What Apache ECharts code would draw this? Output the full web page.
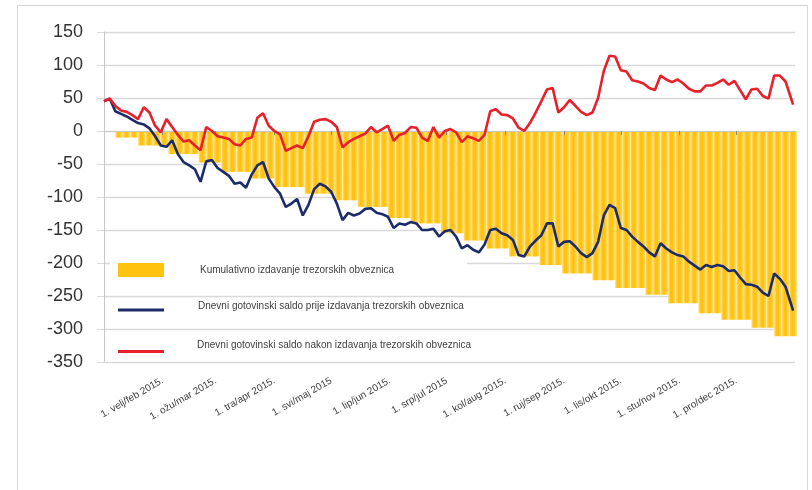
<!DOCTYPE html>
<html>
<head>
<meta charset="utf-8">
<script src="https://cdn.jsdelivr.net/npm/echarts@6/dist/echarts.min.js"></script>
<style>
  html, body { margin: 0; padding: 0; background: #fff; }
  #chart { width: 812px; height: 490px; }
</style>
</head>
<body>
<div id="chart"></div>
<script>
// Series names (legend text)
const seriesNames = [
  'Kumulativno izdavanje trezorskih obveznica',
  'Dnevni gotovinski saldo prije izdavanja trezorskih obveznica',
  'Dnevni gotovinski saldo nakon izdavanja trezorskih obveznica'
];

// Day of year 2015 (0 = 1 Jan) for the daily cash balance samples
const lineDay = [
  0, 3, 6, 9, 12, 15, 18, 21, 24, 27,
  30, 33, 36, 39, 42, 45, 48, 51, 54, 57,
  60, 63, 66, 69, 72, 75, 78, 81, 84, 87,
  90, 93, 96, 99, 102, 105, 108, 111, 114, 117,
  120, 123, 126, 129, 132, 135, 138, 141, 144, 147,
  150, 153, 156, 159, 162, 165, 168, 171, 174, 177,
  180, 183, 186, 189, 192, 195, 198, 201, 204, 207,
  210, 213, 216, 219, 222, 225, 228, 231, 234, 237,
  240, 243, 246, 249, 252, 255, 258, 261, 264, 267,
  270, 273, 276, 279, 282, 285, 288, 291, 294, 297,
  300, 303, 306, 309, 312, 315, 318, 321, 324, 327,
  330, 333, 336, 339, 342, 345, 348, 351, 354, 357,
  360, 364
];

// Daily cash balance before treasury bill issuance
const balanceBefore = [
  45, 49, 30, 26, 22, 17, 12, 10, 4, -8,
  -22, -24, -14, -35, -47, -52, -58, -77, -46, -44,
  -56, -62, -68, -80, -78, -86, -66, -52, -47, -72,
  -85, -95, -115, -110, -103, -128, -112, -88, -80, -84,
  -92, -110, -135, -124, -128, -125, -118, -117, -124, -126,
  -130, -147, -140, -142, -138, -140, -150, -150, -148, -160,
  -152, -150, -160, -178, -173, -180, -184, -172, -150, -148,
  -155, -158, -165, -188, -190, -175, -166, -158, -140, -140,
  -175, -168, -167, -175, -185, -191, -185, -168, -128, -112,
  -117, -147, -150, -160, -168, -175, -184, -190, -170, -178,
  -184, -188, -190, -198, -204, -210, -203, -206, -203, -205,
  -212, -211, -222, -232, -233, -236, -245, -250, -216, -224,
  -236, -272
];

// Daily cash balance after treasury bill issuance
const balanceAfter = [
  45, 49, 38, 31, 29, 24, 18, 36, 28, 8,
  -2, 18, 6, -6, -16, -14, -22, -29, 6, 0,
  -8, -10, -12, -20, -22, -12, -10, 20, 27, 8,
  0, -5, -30, -26, -22, -26, -8, 14, 17, 18,
  14, 6, -25, -17, -12, -8, -4, 6, -2, 3,
  8, -15, -6, -3, 6, 5, -10, -15, 6, -10,
  0, 3, -2, -17, -8, -11, -15, -6, 30, 33,
  25, 24, 19, 5, 0, 12, 28, 45, 63, 65,
  28, 36, 47, 38, 29, 24, 28, 50, 91, 114,
  113, 92, 90, 77, 75, 72, 65, 62, 84, 78,
  74, 78, 72, 64, 60, 60, 69, 69, 73, 78,
  70, 76, 62, 48, 63, 64, 53, 49, 84, 84,
  75, 40
];

// Day of year for the cumulative issuance bars
const barDay = [
  8, 12, 16, 20, 24, 28, 32, 36, 40, 44,
  48, 52, 56, 60, 64, 68, 72, 76, 80, 84,
  88, 92, 96, 100, 104, 108, 112, 116, 120, 124,
  128, 132, 136, 140, 144, 148, 152, 156, 160, 164,
  168, 172, 176, 180, 184, 188, 192, 196, 200, 204,
  208, 212, 216, 220, 224, 228, 232, 236, 240, 244,
  248, 252, 256, 260, 264, 268, 272, 276, 280, 284,
  288, 292, 296, 300, 304, 308, 312, 316, 320, 324,
  328, 332, 336, 340, 344, 348, 352, 356, 360, 364
];

// Cumulative treasury bill issuance (shown below zero)
const cumulativeIssuance = [
  -10, -10, -10, -22, -22, -22, -22, -35, -35, -35,
  -35, -48, -48, -48, -62, -62, -62, -62, -72, -72,
  -72, -85, -85, -85, -85, -95, -95, -95, -95, -105,
  -105, -105, -115, -115, -115, -115, -132, -132, -132, -140,
  -140, -140, -140, -155, -155, -155, -166, -166, -166, -178,
  -178, -178, -190, -190, -190, -190, -203, -203, -203, -216,
  -216, -216, -216, -226, -226, -226, -238, -238, -238, -238,
  -248, -248, -248, -261, -261, -261, -261, -276, -276, -276,
  -286, -286, -286, -286, -298, -298, -298, -311, -311, -311
];

// First day of each month (day of year) and its axis label
const monthStartDay = [31, 59, 90, 120, 151, 181, 212, 243, 273, 304, 334];
const monthLabels = [
  '1. velj/feb 2015.', '1. ožu/mar 2015.', '1. tra/apr 2015.', '1. svi/maj 2015',
  '1. lip/jun 2015.', '1. srp/jul 2015', '1. kol/aug 2015.', '1. ruj/sep 2015.',
  '1. lis/okt 2015.', '1. stu/nov 2015.', '1. pro/dec 2015.'
];

// y axis range
const yMin = -350, yMax = 150, yStep = 50;

const pair = (xs, ys) => xs.map((x, i) => [x, ys[i]]);

const chart = echarts.init(document.getElementById('chart'), null, { renderer: 'canvas' });

const textColor = '#404040';
const gridColor = '#d9d9d9';
const fontFamily = '"Liberation Sans", Arial, sans-serif';
const barColor = '#FFC30F';
const barLight = '#FFE083';
const blueColor = '#1B2C69';
const redColor = '#E8202A';

// Legend line swatches sit a little below their text: a tiny dot at the
// top of the icon box pushes the drawn stroke toward the bottom.
const lineIconLow = 'path://M0,0 L0.05,0 L0.05,0.05 Z M0,7.5 L46,7.5 L46,10.5 L0,10.5 Z';
const lineIconLower = 'path://M0,0 L0.05,0 L0.05,0.05 Z M0,13 L46,13 L46,16 L0,16 Z';

const legendBase = {
  orient: 'vertical',
  left: 110,
  itemWidth: 46,
  selectedMode: false,
  textStyle: { fontFamily: fontFamily, fontSize: 10, color: textColor }
};

chart.setOption({
  animation: false,
  backgroundColor: '#ffffff',
  graphic: [{
    type: 'rect',
    shape: { x: 17.5, y: 5.5, width: 790, height: 520 },
    style: { fill: 'none', stroke: '#d6d6d6', lineWidth: 1 },
    silent: true,
    z: -10
  }],
  grid: { left: 104, right: 17, top: 32, bottom: 128 },
  legend: [
    Object.assign({}, legendBase, {
      top: 255,
      padding: [8, 73, 8, 8],
      itemHeight: 14,
      backgroundColor: '#ffffff',
      data: [{ name: seriesNames[0], icon: 'rect', itemStyle: { color: barColor } }],
      textStyle: Object.assign({}, legendBase.textStyle, { padding: [0, 0, 6, 31] })
    }),
    Object.assign({}, legendBase, {
      top: 301,
      padding: [0, 0, 0, 8],
      itemHeight: 10.5,
      data: [{ name: seriesNames[1], icon: lineIconLow, itemStyle: { color: blueColor } }],
      textStyle: Object.assign({}, legendBase.textStyle, { padding: [0, 0, 0, 29] })
    }),
    Object.assign({}, legendBase, {
      top: 337,
      padding: [0, 0, 0, 8],
      itemHeight: 16,
      data: [{ name: seriesNames[2], icon: lineIconLower, itemStyle: { color: redColor } }],
      textStyle: Object.assign({}, legendBase.textStyle, { padding: [0, 0, 0, 28] })
    })
  ],
  xAxis: [
    {
      // bottom axis carrying the month labels
      type: 'value',
      min: 0,
      max: 365,
      position: 'bottom',
      axisLine: { show: false, onZero: false },
      axisTick: { show: false },
      splitLine: { show: false },
      axisLabel: {
        customValues: monthStartDay,
        rotate: 30,
        margin: 18,
        fontFamily: fontFamily,
        fontSize: 10,
        color: textColor,
        formatter: function (v) {
          const i = monthStartDay.indexOf(v);
          return i >= 0 ? monthLabels[i] : '';
        }
      }
    },
    {
      // axis line crossing at zero with month ticks
      type: 'value',
      min: 0,
      max: 365,
      position: 'bottom',
      z: 3,
      axisLine: { show: true, onZero: true, lineStyle: { color: '#c8c8c8', width: 1 } },
      axisTick: { show: true, customValues: monthStartDay, length: 4, lineStyle: { color: '#8a8a8a' } },
      axisLabel: { show: false },
      splitLine: { show: false }
    }
  ],
  yAxis: {
    type: 'value',
    min: yMin,
    max: yMax,
    interval: yStep,
    axisLine: { show: true, lineStyle: { color: '#c8c8c8', width: 1 } },
    axisTick: { show: true, length: 7, lineStyle: { color: gridColor } },
    splitLine: { show: true, lineStyle: { color: gridColor, width: 1.3 } },
    axisLabel: {
      margin: 21,
      fontFamily: fontFamily,
      fontSize: 18,
      color: '#333333'
    }
  },
  series: [
    {
      name: seriesNames[0],
      type: 'bar',
      xAxisIndex: 0,
      barWidth: 7.6,
      itemStyle: {
        // each bar gets a gold core with pale edges, giving the striped fill
        color: {
          type: 'linear', x: 0, y: 0, x2: 1, y2: 0,
          colorStops: [
            { offset: 0, color: barLight },
            { offset: 0.3, color: barColor },
            { offset: 0.6, color: barColor },
            { offset: 1, color: barLight }
          ]
        }
      },
      data: pair(barDay, cumulativeIssuance)
    },
    {
      name: seriesNames[1],
      type: 'line',
      xAxisIndex: 0,
      symbol: 'none',
      lineStyle: { color: blueColor, width: 2.6 },
      itemStyle: { color: blueColor },
      data: pair(lineDay, balanceBefore)
    },
    {
      name: seriesNames[2],
      type: 'line',
      xAxisIndex: 0,
      symbol: 'none',
      lineStyle: { color: redColor, width: 2.6 },
      itemStyle: { color: redColor },
      data: pair(lineDay, balanceAfter)
    }
  ]
});
</script>
</body>
</html>
